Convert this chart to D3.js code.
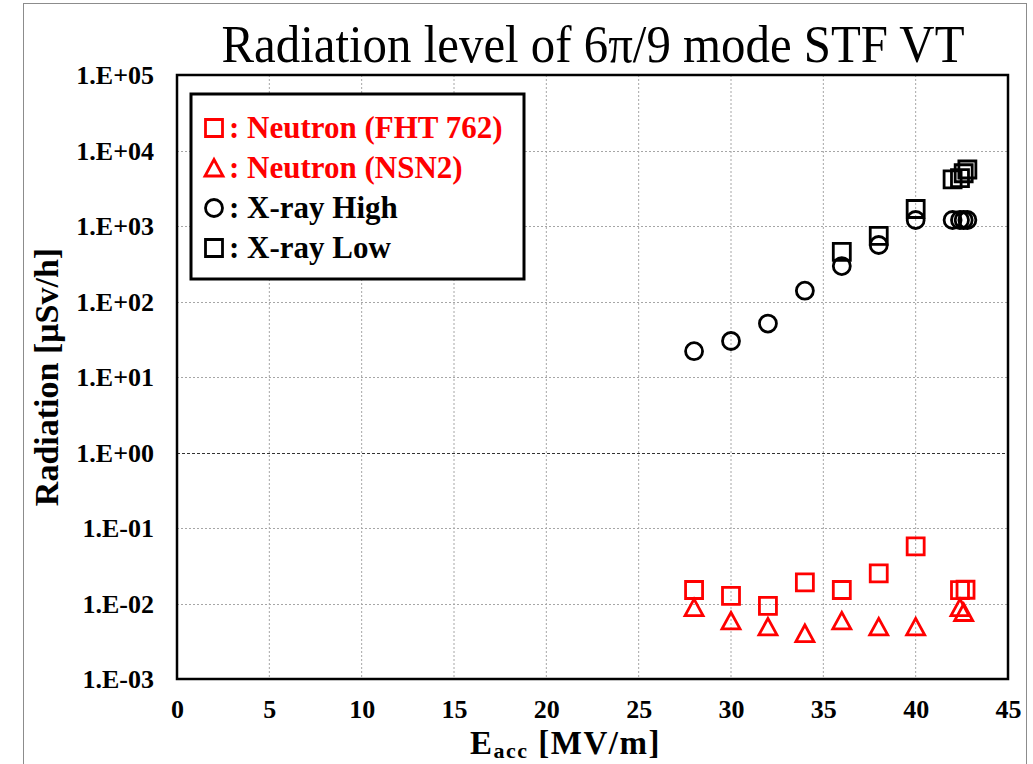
<!DOCTYPE html>
<html>
<head>
<meta charset="utf-8">
<script src="https://cdn.jsdelivr.net/npm/d3@7"></script>
<style>
  body { margin: 0; background: #fff; }
  text { font-family: "Liberation Serif", "Times New Roman", serif; }
</style>
</head>
<body>
<div id="chart"></div>
<script>
// data
var eaccFHT = [28, 30, 32, 34, 36, 38, 40, 42.4, 42.7];
var neutronFHT = [0.0151, 0.0126, 0.0093, 0.019, 0.0151, 0.025, 0.057, 0.015, 0.0152];

var eaccNSN2 = [28, 30, 32, 34, 36, 38, 40, 42.4, 42.6];
var neutronNSN2 = [0.0088, 0.0059, 0.0049, 0.0040, 0.0059, 0.0049, 0.0049, 0.0088, 0.0076];

var eaccXHigh = [28, 30, 32, 34, 36, 38, 40, 42, 42.4, 42.6, 42.8];
var xrayHigh = [22, 30, 51, 139, 295, 560, 1200, 1200, 1200, 1200, 1200];

var eaccXLow = [36, 38, 40, 42, 42.4, 42.6, 42.8];
var xrayLow = [455, 740, 1680, 4150, 4300, 5000, 5600];

var xTicks = [0, 5, 10, 15, 20, 25, 30, 35, 40, 45];
var yTicks = [1e-3, 1e-2, 1e-1, 1e0, 1e1, 1e2, 1e3, 1e4, 1e5];
var yTickLabels = ["1.E-03", "1.E-02", "1.E-01", "1.E+00", "1.E+01", "1.E+02", "1.E+03", "1.E+04", "1.E+05"];

var legendLabels = [": Neutron (FHT 762)", ": Neutron (NSN2)", ": X-ray High", ": X-ray Low"];

// layout
var W = 1033, H = 764;
var plot = {left: 177, top: 75, right: 1008, bottom: 679};

var svg = d3.select("#chart").append("svg")
  .attr("width", W)
  .attr("height", H);

// thin slide frame
svg.append("rect")
  .attr("x", 23.5).attr("y", 3.5)
  .attr("width", 1003).attr("height", 800)
  .attr("fill", "none")
  .attr("stroke", "#8c8c8c")
  .attr("stroke-width", 1);

var x = d3.scaleLinear().domain([0, 45]).range([plot.left, plot.right]);
var y = d3.scaleLog().domain([1e-3, 1e5]).range([plot.bottom, plot.top]);

// grid
svg.append("g").selectAll("line")
  .data(xTicks.slice(1, -1))
  .enter().append("line")
    .attr("x1", function(d) { return x(d); })
    .attr("x2", function(d) { return x(d); })
    .attr("y1", plot.top).attr("y2", plot.bottom)
    .attr("stroke", "#a6a6a6")
    .attr("stroke-width", 1)
    .attr("stroke-dasharray", "2,2");

svg.append("g").selectAll("line")
  .data(yTicks.slice(1, -1))
  .enter().append("line")
    .attr("x1", plot.left).attr("x2", plot.right)
    .attr("y1", function(d) { return Math.round(y(d)) + 0.5; })
    .attr("y2", function(d) { return Math.round(y(d)) + 0.5; })
    .attr("stroke", function(d) { return d === 1 ? "#333" : "#a6a6a6"; })
    .attr("stroke-dasharray", function(d) { return d === 1 ? "3,2" : "2,2"; })
    .attr("stroke-width", 1);

// plot frame
svg.append("rect")
  .attr("x", plot.left).attr("y", plot.top)
  .attr("width", plot.right - plot.left)
  .attr("height", plot.bottom - plot.top)
  .attr("fill", "none")
  .attr("stroke", "#000")
  .attr("stroke-width", 2.5);

// axes (labels only, no tick marks)
var xAxis = svg.append("g")
  .attr("transform", "translate(0," + (plot.bottom + 39) + ")")
  .call(d3.axisBottom(x).tickValues(xTicks).tickSize(0).tickPadding(0).tickFormat(d3.format("d")));
xAxis.select(".domain").remove();
xAxis.selectAll("text")
  .attr("dy", 0)
  .attr("fill", "#000")
  .style("font-family", "'Liberation Serif', serif")
  .style("font-size", "26px")
  .style("font-weight", "bold");

var yAxis = svg.append("g")
  .attr("transform", "translate(" + 154 + ",0)")
  .call(d3.axisLeft(y).tickValues(yTicks).tickSize(0).tickPadding(0)
    .tickFormat(function(d, i) { return yTickLabels[i]; }));
yAxis.select(".domain").remove();
yAxis.selectAll("text")
  .attr("dy", "0.34em")
  .attr("fill", "#000")
  .style("font-family", "'Liberation Serif', serif")
  .style("font-size", "26px")
  .style("font-weight", "bold");

// marker shapes
var squarePath = "M-8.5,-8.5H8.5V8.5H-8.5Z";
var trianglePath = "M0,-8.5L9,8L-9,8Z";
var circlePath = d3.symbol().type(d3.symbolCircle).size(Math.PI * 8.5 * 8.5)();

function drawSeries(xs, ys, path, color) {
  svg.append("g").selectAll("path")
    .data(xs)
    .enter().append("path")
      .attr("d", path)
      .attr("transform", function(d, i) { return "translate(" + x(d) + "," + y(ys[i]) + ")"; })
      .attr("fill", "none")
      .attr("stroke", color)
      .attr("stroke-width", 2.8);
}

drawSeries(eaccFHT, neutronFHT, squarePath, "#ff0000");
drawSeries(eaccNSN2, neutronNSN2, trianglePath, "#ff0000");
drawSeries(eaccXHigh, xrayHigh, circlePath, "#000");
drawSeries(eaccXLow, xrayLow, squarePath, "#000");

// legend
var legend = svg.append("g");
legend.append("rect")
  .attr("x", 191).attr("y", 94)
  .attr("width", 333).attr("height", 185)
  .attr("fill", "#fff")
  .attr("stroke", "#000")
  .attr("stroke-width", 3);

var legendColors = ["#ff0000", "#ff0000", "#000", "#000"];
var legendPaths = [squarePath, trianglePath, circlePath, squarePath];

legendLabels.forEach(function(lbl, i) {
  var cy = 128 + i * 40;
  legend.append("path")
    .attr("d", legendPaths[i])
    .attr("transform", "translate(214," + cy + ")")
    .attr("fill", "none")
    .attr("stroke", legendColors[i])
    .attr("stroke-width", 2.8);
  legend.append("text")
    .attr("x", 229)
    .attr("y", cy + 10)
    .attr("fill", legendColors[i])
    .style("font-size", "31px")
    .style("font-weight", "bold")
    .text(lbl);
});

// title
svg.append("text")
  .attr("x", 593)
  .attr("y", 62)
  .attr("text-anchor", "middle")
  .attr("textLength", 743)
  .attr("lengthAdjust", "spacingAndGlyphs")
  .style("font-size", "52px")
  .text("Radiation level of 6π/9 mode STF VT");

// axis titles
var xTitle = svg.append("text")
  .attr("x", 470)
  .attr("y", 754)
  .style("font-size", "33px")
  .style("font-weight", "bold")
  .style("letter-spacing", "1.5px");
xTitle.append("tspan").text("E");
xTitle.append("tspan").attr("dy", 4).style("font-size", "22px").text("acc");
xTitle.append("tspan").attr("dy", -4).text(" [MV/m]");

svg.append("text")
  .attr("transform", "translate(58," + ((plot.top + plot.bottom) / 2) + ") rotate(-90)")
  .attr("text-anchor", "middle")
  .style("font-size", "34px")
  .style("font-weight", "bold")
  .text("Radiation [μSv/h]");
</script>
</body>
</html>
